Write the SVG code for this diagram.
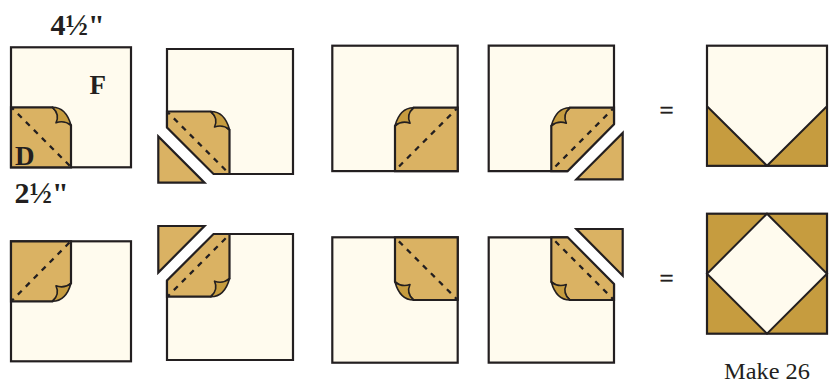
<svg xmlns="http://www.w3.org/2000/svg" width="833" height="384" viewBox="0 0 833 384">
<style>
.sq{fill:#fffbee;stroke:#231f20;stroke-width:2.2}
.pt{fill:#dab263;stroke:#231f20;stroke-width:2.2;stroke-linejoin:miter}
.dk{fill:#c69c3f;stroke:#231f20;stroke-width:1.6;stroke-linejoin:round}
.tr{fill:#c69c3f;stroke:#231f20;stroke-width:2}
.ds{fill:none;stroke:#231f20;stroke-width:2.3;stroke-dasharray:5.5 5.8}
.b{font-family:"Liberation Serif",serif;font-weight:bold;fill:#231f20}
.r{font-family:"Liberation Serif",serif;fill:#231f20}
</style>
<defs>
<path id="curl" class="dk" d="M-18.5,0 Q-5,0 0,18 Q-7,12.5 -15,15.5 Q-11,7 -18.5,0Z"/>
</defs>
<rect width="833" height="384" fill="#fff"/>

<g id="a1">
<rect class="sq" x="11" y="47.3" width="120" height="120"/>
<path class="pt" d="M11,107.3H52.5L71,125.3V167.3H11Z"/>
<use href="#curl" transform="translate(71,107.3)"/>
<path class="ds" d="M12,108L70,166" stroke-dashoffset="3"/>
</g>
<g id="a2">
<path class="sq" d="M167,127.5V49H293V174H213.5"/>
<path class="pt" d="M167,111.5H210.7L229.5,130V174H213.5L167,127.5Z"/>
<use href="#curl" transform="translate(229.5,111.5)"/>
<path class="ds" d="M168,112.5L227,171.5" stroke-dashoffset="3"/>
</g>
<g id="a2t"><path class="pt" d="M158.3,136.5V182.7H204.5Z"/></g>
<g id="a3">
<rect class="sq" x="332.3" y="45.7" width="125.4" height="125.4"/>
<path class="pt" d="M457.7,107.7H413.5L395,126V171.1H457.7Z"/>
<use href="#curl" transform="translate(395,107.7) scale(-1,1)"/>
<path class="ds" d="M456.7,108.7L398,167.5" stroke-dashoffset="3"/>
</g>
<g id="a4">
<path class="sq" d="M614,124.3V45.7H488.7V171.1H567.7"/>
<path class="pt" d="M614,107.7H569.8L551.3,126V171.1H567.7L614,124.3Z"/>
<use href="#curl" transform="translate(551.3,107.7) scale(-1,1)"/>
<path class="ds" d="M613,108.7L554.5,167.5" stroke-dashoffset="3"/>
</g>
<g id="a4t"><path class="pt" d="M622.7,133V179.3H576.4Z"/></g>
<g id="a5">
<rect class="sq" x="707" y="45.7" width="120" height="120"/>
<path class="tr" d="M707,106.2L767,165.7H707Z"/>
<path class="tr" d="M827,106.2L767,165.7H827Z"/>
</g>

<g id="b1">
<rect class="sq" x="11" y="241.3" width="120" height="120"/>
<path class="pt" d="M11,301.3H52.5L71,283.3V241.3H11Z"/>
<use href="#curl" transform="translate(71,301.3) scale(1,-1)"/>
<path class="ds" d="M12,300.5L70,242" stroke-dashoffset="3"/>
</g>
<g id="b2">
<path class="sq" d="M167,280.5V360H293V234H213.5"/>
<path class="pt" d="M167,296.7H210.7L229.5,278.5V234H213.5L167,280.5Z"/>
<use href="#curl" transform="translate(229.5,296.7) scale(1,-1)"/>
<path class="ds" d="M168,296L227,237" stroke-dashoffset="3"/>
</g>
<g id="b2t"><path class="pt" d="M158.3,272.5V226H204.5Z"/></g>
<g id="b3">
<rect class="sq" x="332.3" y="237.3" width="125.4" height="125.4"/>
<path class="pt" d="M457.7,300H413.5L395,281.7V237.3H457.7Z"/>
<use href="#curl" transform="translate(395,300) scale(-1,-1)"/>
<path class="ds" d="M456.7,299L398,240.5" stroke-dashoffset="3"/>
</g>
<g id="b4">
<path class="sq" d="M567.7,237.3H488.7V362.7H614V284"/>
<path class="pt" d="M614,300H569.8L551.3,281.7V237.3H567.7L614,284Z"/>
<use href="#curl" transform="translate(551.3,300) scale(-1,-1)"/>
<path class="ds" d="M613,299L554.5,240.5" stroke-dashoffset="3"/>
</g>
<g id="b4t"><path class="pt" d="M622.7,275.7V229H576.4Z"/></g>
<g id="b5">
<rect x="707" y="213.7" width="120" height="120" style="fill:#c69c3f;stroke:#231f20;stroke-width:2.2"/>
<path class="sq" style="stroke-width:2" d="M767,213.7L827,273.7L767,333.7L707,273.7Z"/>
</g>

<text class="b" x="50.5" y="34.5" font-size="30">4½"</text>
<text class="b" x="89.5" y="93.5" font-size="27">F</text>
<text class="b" x="15" y="164.5" font-size="27">D</text>
<text class="b" x="14.5" y="203" font-size="30">2½"</text>
<text class="r" x="659.5" y="119" font-size="25" stroke="#231f20" stroke-width="0.4">=</text>
<text class="r" x="659.5" y="287" font-size="25" stroke="#231f20" stroke-width="0.4">=</text>
<text class="r" x="724" y="379" font-size="22.5" textLength="86" lengthAdjust="spacingAndGlyphs">Make 26</text>
</svg>
